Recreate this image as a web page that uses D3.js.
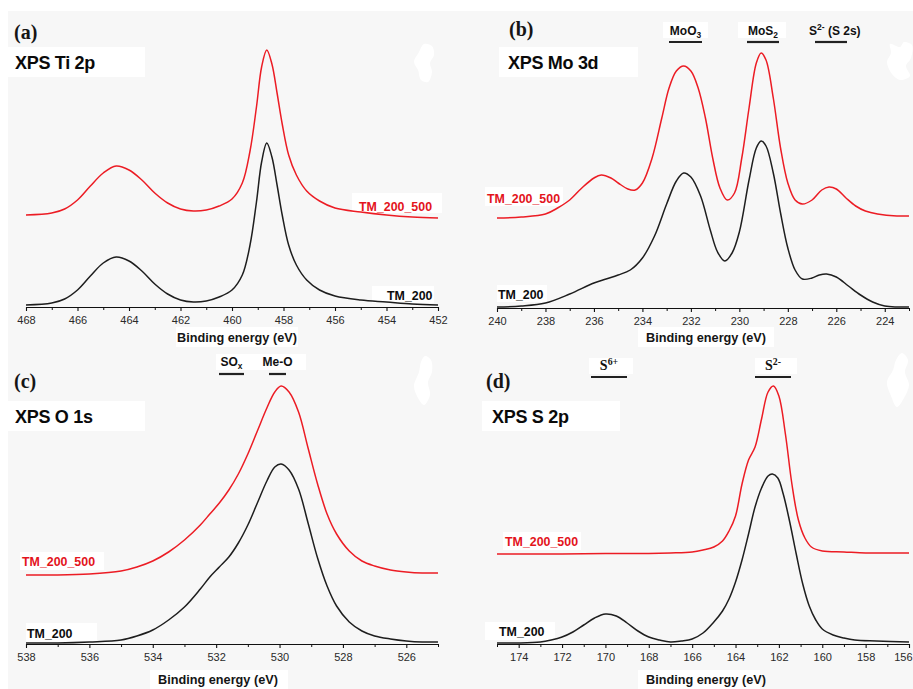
<!DOCTYPE html>
<html>
<head>
<meta charset="utf-8">
<script src="https://cdn.jsdelivr.net/npm/d3@7/dist/d3.min.js"></script>
<style>
  html, body { margin: 0; padding: 0; background: #ffffff; }
  svg { display: block; }
</style>
</head>
<body>
<svg id="fig" width="913" height="689"></svg>
<script>
// ---- XPS spectra: [binding energy (eV), intensity (a.u.)] ----
const ti2p_TM200 = [[468,2],[467,4],[466.5,8],[466,17],[465.5,31],[465,44],[464.5,50],[464,46],[463.5,36],[463,23],[462.5,13],[462,7],[461.5,5],[461,6],[460.5,10],[460,17],[459.6,32],[459.3,62],[459.05,105],[458.85,145],[458.65,164],[458.45,150],[458.25,122],[458.05,92],[457.8,62],[457.5,42],[457.1,27],[456.6,17],[456,11],[455,7],[454,5],[453,3],[452,2]];
const ti2p_TM200500 = [[468,92],[467,94],[466.5,98],[466,107],[465.5,121],[465,134],[464.5,141],[464,137],[463.5,127],[463,114],[462.5,104],[462,98],[461.5,96],[461,97],[460.5,101],[460,108],[459.6,124],[459.3,156],[459.05,200],[458.85,240],[458.65,257],[458.45,243],[458.25,214],[458.05,183],[457.8,152],[457.5,132],[457.1,116],[456.6,106],[456,99],[455,95],[454,92],[453,90],[452,89]];

const mo3d_TM200 = [[240,1],[239,2],[238,5],[237,14],[236,25],[235.5,29],[235,33],[234.5,38],[234,50],[233.5,72],[233,104],[232.6,127],[232.3,135],[232,131],[231.6,112],[231.2,78],[230.9,56],[230.6,47],[230.3,55],[230,76],[229.6,128],[229.3,160],[229.1,167],[228.9,162],[228.6,135],[228.3,95],[228,60],[227.7,38],[227.4,29],[227,30],[226.7,33],[226.4,34],[226,31],[225.5,22],[225,13],[224.5,6],[224,2],[223.5,1],[223,1]];
const mo3d_TM200500 = [[240,90],[239,91],[238,94],[237.5,100],[237,108],[236.5,120],[236,130],[235.7,133],[235.3,130],[235,125],[234.6,119],[234.3,118],[234,125],[233.6,150],[233.2,190],[232.9,220],[232.6,237],[232.3,242],[232,237],[231.7,220],[231.4,190],[231.1,150],[230.8,120],[230.5,108],[230.2,115],[229.9,150],[229.6,200],[229.3,245],[229.1,255],[228.9,248],[228.6,210],[228.3,160],[228,125],[227.7,108],[227.4,104],[227,108],[226.6,118],[226.3,121],[226,119],[225.6,110],[225.2,102],[224.8,97],[224.3,94],[223.5,92],[223,92]];

const o1s_TM200 = [[538,1],[537,1],[536,2],[535,4],[534.5,8],[534,14],[533.5,24],[533,37],[532.5,55],[532.2,67],[531.9,77],[531.6,87],[531.3,101],[531,119],[530.7,141],[530.4,163],[530.15,177],[529.95,180],[529.7,174],[529.4,155],[529.1,121],[528.8,86],[528.5,58],[528.2,38],[527.8,22],[527.4,13],[527,8],[526.5,5],[526,3],[525.5,2],[525,2]];
const o1s_TM200500 = [[538,69],[537,69],[536,70],[535,73],[534.5,77],[534,83],[533.5,92],[533,104],[532.5,119],[532.2,130],[531.9,141],[531.6,154],[531.3,170],[531,190],[530.7,213],[530.4,236],[530.15,252],[529.95,258],[529.7,252],[529.4,232],[529.1,196],[528.8,160],[528.5,130],[528.2,110],[527.8,93],[527.4,83],[527,78],[526.5,74],[526,72],[525.5,71],[525,71]];

const s2p_TM200 = [[175,1],[174,1],[173,2],[172.5,4],[172,7],[171.5,12],[171,19],[170.5,26],[170,30],[169.5,28],[169,21],[168.5,13],[168,7],[167.5,4],[167,2],[166.5,3],[166,5],[165.5,11],[165,22],[164.6,33],[164.3,45],[164,62],[163.7,84],[163.4,110],[163.1,137],[162.8,156],[162.5,168],[162.3,170],[162.05,166],[161.8,150],[161.5,122],[161.2,90],[160.9,60],[160.6,38],[160.3,24],[160,15],[159.5,9],[159,6],[158.5,4],[157.5,3],[156,2]];
const s2p_TM200500 = [[175,90],[174,90],[172,90],[170,90.5],[168,90.5],[167,91],[166,92],[165.5,94],[165,97],[164.6,103],[164.3,113],[164,128],[163.7,160],[163.4,184],[163.1,197],[162.8,225],[162.5,252],[162.25,258],[162,248],[161.7,210],[161.4,160],[161.1,124],[160.8,106],[160.5,97],[160,93],[159,92],[158,91],[157,91],[156,91]];

// ---- axis ticks (eV) ----
const ti2pTicks = [468,466,464,462,460,458,456,454,452];
const mo3dTicks = [240,238,236,234,232,230,228,226,224];
const o1sTicks  = [538,536,534,532,530,528,526];
const s2pTicks  = [174,172,170,168,166,164,162,160,158,156];

// ---- names ----
const seriesNames = ["TM_200", "TM_200_500"];
const panelTitles = ["XPS Ti 2p", "XPS Mo 3d", "XPS O 1s", "XPS S 2p"];
const panelLetters = ["(a)", "(b)", "(c)", "(d)"];
const axisTitle = "Binding energy (eV)";

const RED = "#ec1c24", BLACK = "#1e1e1e";
const svg = d3.select("#fig");

// layers: page background, label boxes, curves/axes, text
const bgLayer = svg.append("g");
const boxLayer = svg.append("g");
const plotLayer = svg.append("g");
const textLayer = svg.append("g");

bgLayer.append("rect").attr("x", 0).attr("y", 0).attr("width", 913).attr("height", 689).attr("fill", "#ffffff");
bgLayer.append("rect").attr("x", 8).attr("y", 11).attr("width", 905).attr("height", 678).attr("fill", "#f7f7f7");

// small white patches in the upper-right corner of each panel
const patches = [
  [[424,44],[432,46],[434,55],[430,63],[432,72],[428,82],[421,80],[418,70],[414,62],[419,52]],
  [[890,44],[900,47],[904,42],[912,45],[911,58],[906,66],[910,76],[900,80],[892,74],[887,62],[891,53]],
  [[425,356],[431,360],[432,372],[428,382],[430,395],[424,405],[418,398],[414,386],[419,372],[421,362]],
  [[902,353],[908,360],[905,372],[909,385],[904,398],[897,407],[891,396],[887,382],[893,370],[896,360]]
];
bgLayer.selectAll("path.patch").data(patches).enter().append("path")
  .attr("class", "patch").attr("fill", "#ffffff")
  .attr("d", d3.line().curve(d3.curveCatmullRomClosed));

const panels = [
  { dom: [468, 452], x0: 26, x1: 438, axisY: 307, ticks: ti2pTicks, black: ti2p_TM200, red: ti2p_TM200500,
    letter: [14, 39], title: { box: [8, 47, 137, 30], x: 15, y: 69 },
    axTitle: { box: [176, 327, 122, 20], x: 237, y: 342 },
    redLab: { box: [352, 193, 90, 20], x: 359, y: 211 }, blackLab: { box: [372, 286, 62, 17], x: 387, y: 300 } },
  { dom: [240, 223], x0: 497, x1: 909, axisY: 308, ticks: mo3dTicks, black: mo3d_TM200, red: mo3d_TM200500,
    letter: [509, 36], title: { box: [499, 47, 139, 30], x: 508, y: 69 },
    axTitle: { box: [638, 327, 136, 20], x: 706, y: 342 },
    redLab: { box: [485, 187, 78, 19], x: 487, y: 203 }, blackLab: { box: [497, 285, 50, 17], x: 498, y: 299 } },
  { dom: [538, 525], x0: 26, x1: 438, axisY: 644, ticks: o1sTicks, black: o1s_TM200, red: o1s_TM200500,
    letter: [14, 388], title: { box: [8, 401, 137, 30], x: 15, y: 423 },
    axTitle: { box: [150, 670, 138, 19], x: 218, y: 684 },
    redLab: { box: [20, 552, 84, 18], x: 22, y: 566 }, blackLab: { box: [26, 623, 71, 19], x: 27, y: 638 } },
  { dom: [175, 156], x0: 497, x1: 909, axisY: 644, ticks: s2pTicks, black: s2p_TM200, red: s2p_TM200500,
    letter: [486, 388], title: { box: [482, 401, 138, 30], x: 492, y: 423 },
    axTitle: { box: [638, 670, 122, 19], x: 706, y: 684 },
    redLab: { box: [503, 532, 78, 18], x: 505, y: 546 }, blackLab: { box: [485, 622, 70, 18], x: 499, y: 636 } }
];

const SANS = "'Liberation Sans', Arial, sans-serif";
const SERIF = "'Liberation Serif', 'Times New Roman', serif";

function whiteBox(b) {
  boxLayer.append("rect").attr("x", b[0]).attr("y", b[1]).attr("width", b[2]).attr("height", b[3]).attr("fill", "#ffffff");
}

panels.forEach((p, i) => {
  const x = d3.scaleLinear().domain(p.dom).range([p.x0, p.x1]);
  const y = d3.scaleLinear().domain([0, 270]).range([p.axisY, p.axisY - 270]);
  const g = plotLayer.append("g");

  whiteBox(p.title.box);
  whiteBox(p.axTitle.box);
  whiteBox(p.redLab.box);
  whiteBox(p.blackLab.box);

  const line = d3.line().x(d => x(d[0])).y(d => y(d[1])).curve(d3.curveCatmullRom.alpha(0.5));

  g.append("path").datum(p.red).attr("d", line).attr("fill", "none")
    .attr("stroke", RED).attr("stroke-width", 1.5);
  g.append("path").datum(p.black).attr("d", line).attr("fill", "none")
    .attr("stroke", BLACK).attr("stroke-width", 1.5);

  // bottom axis with major (labelled) and minor ticks
  const axis = d3.axisBottom(x).tickValues(p.ticks).tickSize(4).tickSizeOuter(0).tickFormat(d3.format("d"));
  const ax = g.append("g").attr("transform", `translate(0,${p.axisY})`).call(axis);
  ax.select(".domain").attr("stroke", "#111").attr("stroke-width", 1.2);
  ax.selectAll(".tick line").attr("stroke", "#111").attr("stroke-width", 1.1);
  ax.selectAll(".tick text").attr("font-family", SANS).attr("font-size", 11).attr("fill", "#2a2a2a").attr("dy", "0.9em")
    .filter(d => x(d) > 900).attr("text-anchor", "end").attr("dx", 3);
  const lo = Math.min(...p.dom), hi = Math.max(...p.dom);
  const minors = d3.range(Math.ceil(lo), Math.floor(hi) + 1).filter(v => !p.ticks.includes(v));
  const minorAxis = d3.axisBottom(x).tickValues(minors).tickSize(3).tickFormat("");
  const mx = g.append("g").attr("transform", `translate(0,${p.axisY})`).call(minorAxis);
  mx.select(".domain").remove();
  mx.selectAll(".tick line").attr("stroke", "#111").attr("stroke-width", 1);

  const t = textLayer.append("g");
  // axis title
  t.append("text").attr("x", p.axTitle.x).attr("y", p.axTitle.y).attr("text-anchor", "middle")
    .attr("font-family", SANS).attr("font-weight", "bold").attr("font-size", 12.7).attr("fill", "#151515")
    .text(axisTitle);

  // panel letter and title
  t.append("text").attr("x", p.letter[0]).attr("y", p.letter[1])
    .attr("font-family", SERIF).attr("font-weight", "bold").attr("font-size", 20).attr("fill", "#151515")
    .text(panelLetters[i]);
  t.append("text").attr("x", p.title.x).attr("y", p.title.y)
    .attr("font-family", SANS).attr("font-weight", "bold").attr("font-size", 18).attr("fill", "#0a0a0a")
    .attr("letter-spacing", -0.3)
    .text(panelTitles[i]);

  // series labels
  t.append("text").attr("x", p.redLab.x).attr("y", p.redLab.y)
    .attr("font-family", SANS).attr("font-weight", "bold").attr("font-size", 12.4).attr("fill", "#e3141c")
    .text(seriesNames[1]);
  t.append("text").attr("x", p.blackLab.x).attr("y", p.blackLab.y)
    .attr("font-family", SANS).attr("font-weight", "bold").attr("font-size", 12.4).attr("fill", "#0d0d0d")
    .text(seriesNames[0]);
});

// ---- peak assignment markers ----
function marker(label, sub, sup, x0, x1, ty, by, font, size) {
  const cx = (x0 + x1) / 2;
  const t = textLayer.append("text").attr("x", cx).attr("y", ty).attr("text-anchor", "middle")
    .attr("font-family", font).attr("font-weight", "bold").attr("font-size", size).attr("fill", "#111");
  t.append("tspan").text(label);
  if (sub) t.append("tspan").attr("dy", 3).attr("font-size", size * 0.7).text(sub);
  if (sup) t.append("tspan").attr("dy", -5).attr("font-size", size * 0.7).text(sup);
  textLayer.append("line").attr("x1", x0).attr("x2", x1).attr("y1", by).attr("y2", by)
    .attr("stroke", "#222").attr("stroke-width", 2.2);
}
// Mo 3d
whiteBox([663, 22, 45, 16]);
whiteBox([738, 22, 48, 16]);
marker("MoO", "3", null, 669, 702, 35, 42, SANS, 12);
marker("MoS", "2", null, 747, 779, 35, 42, SANS, 12);
{
  const t = textLayer.append("text").attr("x", 809).attr("y", 35)
    .attr("font-family", SANS).attr("font-weight", "bold").attr("font-size", 12).attr("fill", "#111");
  t.append("tspan").text("S");
  t.append("tspan").attr("dy", -5).attr("font-size", 8.5).text("2-");
  t.append("tspan").attr("dy", 5).text(" (S 2s)");
  textLayer.append("line").attr("x1", 815).attr("x2", 847).attr("y1", 42).attr("y2", 42)
    .attr("stroke", "#222").attr("stroke-width", 2.2);
}
// O 1s
whiteBox([216, 354, 90, 16]);
marker("SO", "x", null, 219, 244, 366, 374, SANS, 12);
marker("Me-O", null, null, 269, 286, 366, 374, SANS, 12);
// S 2p
whiteBox([589, 358, 44, 16]);
whiteBox([755, 358, 42, 16]);
marker("S", null, "6+", 591, 627, 370, 377, SERIF, 14);
marker("S", null, "2-", 755, 791, 370, 377, SERIF, 14);
</script>
</body>
</html>
